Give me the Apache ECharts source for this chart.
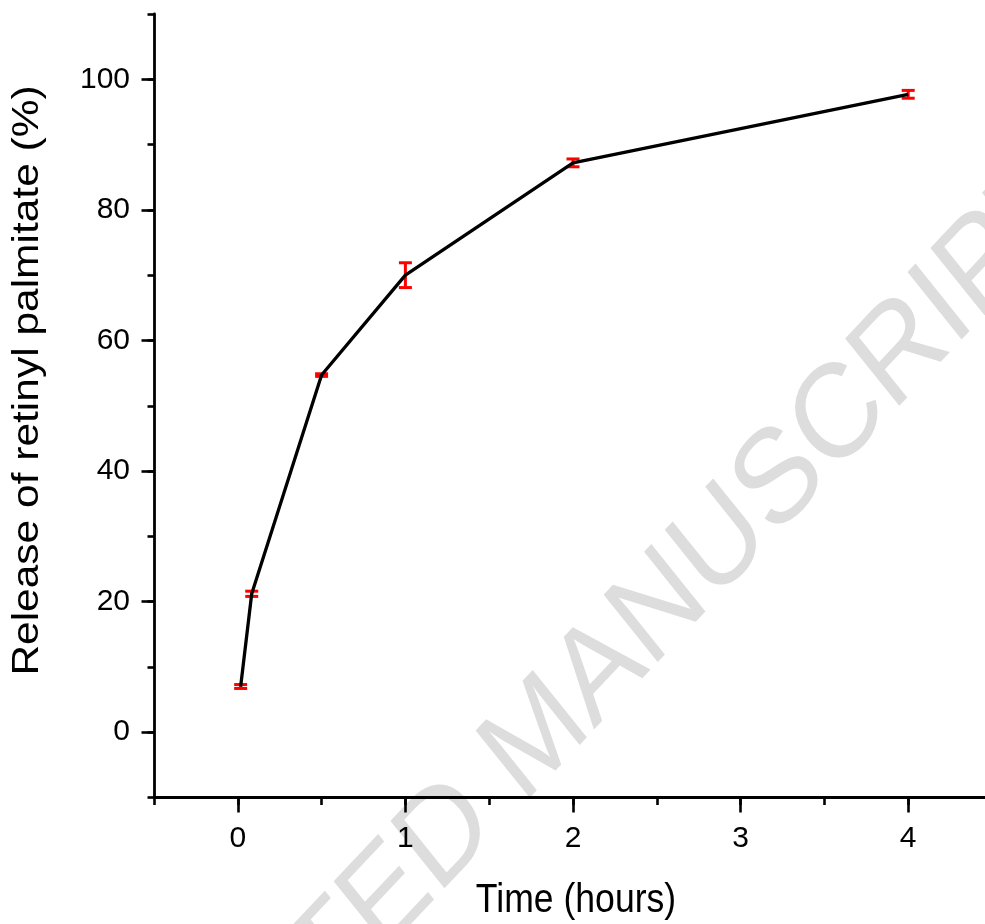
<!DOCTYPE html>
<html>
<head>
<meta charset="utf-8">
<title>Release of retinyl palmitate</title>
<script src="https://cdn.jsdelivr.net/npm/echarts@6/dist/echarts.min.js"></script>
<style>
  html, body { margin: 0; padding: 0; background: #ffffff; }
  #chart { width: 985px; height: 924px; }
</style>
</head>
<body>
<div id="chart"></div>
<script>
// Release profile: sampling times (hours), mean release (%) and SD
const timeHours = [0.017, 0.083, 0.5, 1, 2, 4];
const releasePct = [7.0, 21.2, 54.7, 70.0, 87.2, 97.7];
const releaseSd = [0.3, 0.4, 0.2, 1.9, 0.6, 0.6];

// Labelled (major) tick values on each axis
const xTickValues = [0, 1, 2, 3, 4];
const yTickValues = [0, 20, 40, 60, 80, 100];

const FONT = '"Liberation Sans", Arial, Helvetica, sans-serif';

const linePoints = timeHours.map((t, i) => [t, releasePct[i]]);
const errPoints = timeHours.map((t, i) => [t, releasePct[i], releaseSd[i]]);

const axisLineStyle = { color: '#000000', width: 2.8 };
const tickLineStyle = { color: '#000000', width: 2.6 };

const chart = echarts.init(document.getElementById('chart'), null, { renderer: 'canvas' });

chart.setOption({
  animation: false,
  backgroundColor: '#ffffff',
  grid: {
    left: 154,
    top: 14,
    right: -7,
    bottom: 126.5,
    containLabel: false,
    outerBoundsMode: 'none'
  },
  xAxis: [
    {
      // axis line with the half-unit minor ticks
      type: 'value',
      position: 'bottom',
      min: -0.5,
      max: 4.5,
      interval: 0.5,
      axisLine: { show: true, onZero: false, lineStyle: axisLineStyle },
      axisTick: { show: true, inside: false, length: 7.5, lineStyle: tickLineStyle },
      axisLabel: { show: false },
      splitLine: { show: false }
    },
    {
      // labelled hourly ticks
      type: 'value',
      position: 'bottom',
      min: -0.5,
      max: 4.5,
      axisLine: { show: false, onZero: false },
      axisTick: { show: true, inside: false, length: 15, customValues: xTickValues, lineStyle: tickLineStyle },
      axisLabel: {
        show: true,
        customValues: xTickValues,
        margin: 26,
        fontSize: 30,
        fontFamily: FONT,
        color: '#000000'
      },
      splitLine: { show: false }
    }
  ],
  yAxis: [
    {
      type: 'value',
      position: 'left',
      min: -10,
      max: 110,
      interval: 10,
      axisLine: { show: true, onZero: false, lineStyle: axisLineStyle },
      axisTick: { show: true, inside: false, length: 6.5, lineStyle: tickLineStyle },
      axisLabel: { show: false },
      splitLine: { show: false }
    },
    {
      type: 'value',
      position: 'left',
      min: -10,
      max: 110,
      axisLine: { show: false, onZero: false },
      axisTick: { show: true, inside: false, length: 12.5, customValues: yTickValues, lineStyle: tickLineStyle },
      axisLabel: {
        show: true,
        customValues: yTickValues,
        margin: 24,
        fontSize: 30,
        fontFamily: FONT,
        color: '#000000'
      },
      splitLine: { show: false }
    }
  ],
  graphic: [
    {
      // diagonal watermark behind the plot
      type: 'group',
      x: 539,
      y: 738,
      scaleY: 1.15,
      z: -10,
      silent: true,
      children: [
        {
          type: 'text',
          rotation: 42.7 * Math.PI / 180,
          z: -10,
          style: {
            text: 'ACCEPTED MANUSCRIPT',
            fontSize: 116,
            fontFamily: FONT,
            fill: '#dddddd',
            textAlign: 'center',
            textVerticalAlign: 'middle',
            align: 'center',
            verticalAlign: 'middle'
          }
        }
      ]
    },
    {
      // y-axis title
      type: 'text',
      x: 27.8,
      y: 380.5,
      rotation: Math.PI / 2,
      scaleX: 1.18,
      silent: true,
      style: {
        text: 'Release of retinyl palmitate (%)',
        fontSize: 36,
        fontFamily: FONT,
        fill: '#000000',
        textAlign: 'center',
        textVerticalAlign: 'middle',
        align: 'center',
        verticalAlign: 'middle'
      }
    },
    {
      // x-axis title
      type: 'text',
      x: 576,
      y: 901.3,
      scaleY: 1.14,
      silent: true,
      style: {
        text: 'Time (hours)',
        fontSize: 35.6,
        fontFamily: FONT,
        fill: '#000000',
        textAlign: 'center',
        textVerticalAlign: 'middle',
        align: 'center',
        verticalAlign: 'middle'
      }
    }
  ],
  series: [
    {
      name: 'SD',
      type: 'custom',
      xAxisIndex: 0,
      yAxisIndex: 0,
      z: 2,
      data: errPoints,
      encode: { x: 0, y: 1 },
      renderItem: function (params, api) {
        const x = api.value(0);
        const y = api.value(1);
        const e = api.value(2);
        const top = api.coord([x, y + e]);
        const bot = api.coord([x, y - e]);
        const hw = 6.5;
        const st = { stroke: '#ff0000', lineWidth: 3, fill: null };
        return {
          type: 'group',
          children: [
            { type: 'line', shape: { x1: top[0], y1: top[1], x2: bot[0], y2: bot[1] }, style: st },
            { type: 'line', shape: { x1: top[0] - hw, y1: top[1], x2: top[0] + hw, y2: top[1] }, style: st },
            { type: 'line', shape: { x1: bot[0] - hw, y1: bot[1], x2: bot[0] + hw, y2: bot[1] }, style: st }
          ]
        };
      }
    },
    {
      name: 'Release',
      type: 'line',
      xAxisIndex: 0,
      yAxisIndex: 0,
      z: 3,
      data: linePoints,
      symbol: 'none',
      smooth: false,
      lineStyle: { color: '#000000', width: 3.3 }
    }
  ]
});
</script>
</body>
</html>
